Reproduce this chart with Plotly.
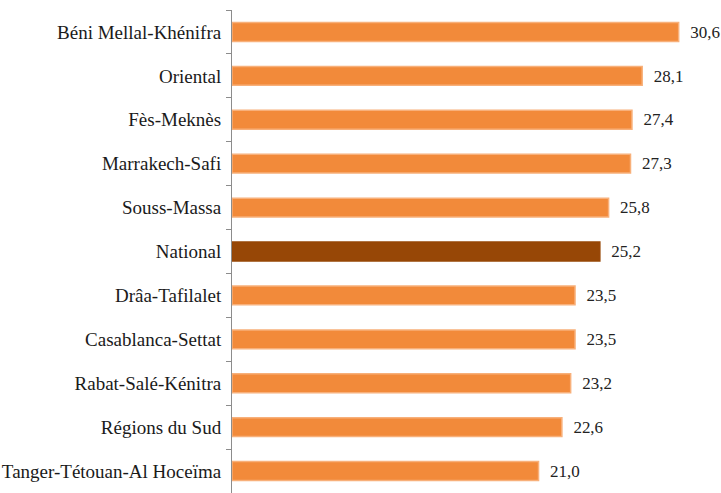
import plotly.graph_objects as go

regions = ["Béni Mellal-Khénifra", "Oriental", "Fès-Meknès", "Marrakech-Safi",
           "Souss-Massa", "National", "Drâa-Tafilalet", "Casablanca-Settat",
           "Rabat-Salé-Kénitra", "Régions du Sud", "Tanger-Tétouan-Al Hoceïma"]
values = [30.6, 28.1, 27.4, 27.3, 25.8, 25.2, 23.5, 23.5, 23.2, 22.6, 21.0]
labels = [f"{v:.1f}".replace(".", ",") for v in values]

colors = ["#974706" if r == "National" else "#F28A3A" for r in regions]
lines = ["#974706" if r == "National" else "#F8B07A" for r in regions]

SERIF = "Liberation Serif, DejaVu Serif, Noto Serif, serif"

fig = go.Figure(go.Bar(
    x=values, y=regions, orientation="h",
    marker=dict(color=colors, line=dict(color=lines, width=1.5)),
    text=["  " + t for t in labels], textposition="outside",
    textfont=dict(family=SERIF, size=18, color="#222222"),
    cliponaxis=False,
))

fig.update_layout(
    width=721, height=493,
    margin=dict(l=232, r=0, t=10, b=0),
    paper_bgcolor="white", plot_bgcolor="white",
    bargap=0.57, showlegend=False,
    font=dict(family=SERIF, size=18, color="#1a1a1a"),
    xaxis=dict(range=[0, 33.5], visible=False, showgrid=False, zeroline=False),
    yaxis=dict(autorange="reversed", showline=True, linecolor="#8c8c8c", linewidth=1,
               ticks="outside", ticklen=5, tickcolor="#8c8c8c", tickson="boundaries",
               ticklabelstandoff=6, showgrid=False, automargin=False,
               tickfont=dict(family=SERIF, size=19, color="#1a1a1a")),
)

fig.write_html("out.html")
